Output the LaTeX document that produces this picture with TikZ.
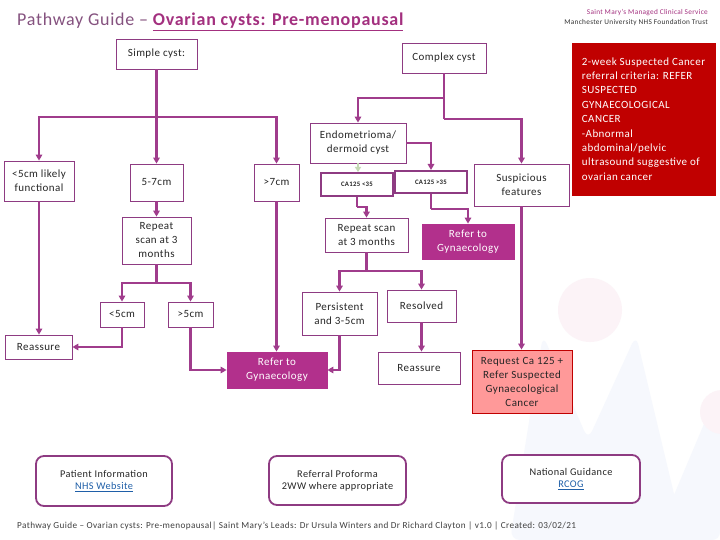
\documentclass[tikz,border=0pt]{standalone}
\usepackage{fontspec}
\setmainfont{Carlito}[LetterSpace=4]
\usetikzlibrary{arrows.meta}
\definecolor{linec}{HTML}{A03C8C}
\definecolor{boxc}{HTML}{8E3B82}
\definecolor{referfill}{HTML}{B2308C}
\definecolor{darkred}{HTML}{C00000}
\definecolor{reqfill}{HTML}{FF9999}
\definecolor{titlep}{HTML}{A3307F}
\definecolor{titleg}{HTML}{85527F}
\definecolor{linkblue}{HTML}{1F5FA8}
\definecolor{wmblue}{HTML}{F6F8FD}
\definecolor{wmpink}{HTML}{FCF3F7}
\definecolor{cagreen}{HTML}{C4D9B4}
\begin{document}
\begin{tikzpicture}[x=1pt,y=-1pt,
  box/.style={draw=boxc, line width=0.8pt, fill=white, inner sep=1pt, align=center,
    font=\fontsize{11}{14}\selectfont, text=black!85},
  cabox/.style={box, line width=2pt, font=\fontsize{6.8}{8}\selectfont\bfseries},
  refer/.style={box, fill=referfill, draw=referfill, text=white},
  infobox/.style={draw=boxc, line width=1.8pt, rounded corners=8pt, fill=white, align=center,
    font=\fontsize{10.3}{12.5}\selectfont, text=black!85},
  conn/.style={draw=linec, line width=2.2pt, -{Triangle[length=6pt,width=6.5pt]}},
  plain/.style={draw=linec, line width=2.2pt}]
\useasboundingbox (0,0) rectangle (720,540);
\fill[white] (0,0) rectangle (720,540);
% faint watermark
\fill[wmblue, rounded corners=10pt] (510,540) -- (543,335) -- (588,440) -- (636,335) -- (685,540) -- cycle;
\fill[wmblue, rounded corners=8pt] (655,540) -- (712,405) -- (720,405) -- (720,540) -- cycle;
\fill[wmpink] (590,310) circle (32);
\fill[wmpink] (722,412) circle (22);
% header
\node[anchor=west, font=\fontsize{18}{20}\selectfont, text=titleg, inner sep=0pt] (title) at (17,22)
  {Pathway Guide -- \textcolor{titlep}{\bfseries\underline{Ovarian cysts: Pre-menopausal}}};
\node[anchor=east, font=\fontsize{7.3}{8}\selectfont, text=titlep, inner sep=0pt] (smc) at (708,13)
  {Saint Mary's Managed Clinical Service};
\node[anchor=east, font=\fontsize{7.3}{8}\selectfont, text=black!80, inner sep=0pt] (mft) at (708,23)
  {Manchester University NHS Foundation Trust};
% nodes
\node[box, minimum width=81, minimum height=30] (simple) at (156.5,54) {Simple cyst:};
\node[box, minimum width=84, minimum height=30] (complex) at (444,58) {Complex cyst};
\node[box, minimum width=70, minimum height=40] (func) at (39,181) {<5cm likely\\functional};
\node[box, minimum width=53, minimum height=37] (s57) at (156.5,182.5) {5-7cm};
\node[box, minimum width=45, minimum height=37] (g7) at (276.5,182.5) {>7cm};
\node[box, minimum width=96, minimum height=40] (endo) at (358,143) {Endometrioma/\\dermoid cyst};
\node[cabox, minimum width=72, minimum height=23] (calow) at (357,184.5) {CA125 <35};
\node[cabox, minimum width=72, minimum height=22] (cahigh) at (431,182) {CA125 >35};
\node[box, minimum width=95, minimum height=42] (susp) at (521.5,185) {Suspicious\\features};
\node[box, fill=darkred, draw=darkred, text=white, minimum width=143, minimum height=152,
  align=left, font=\fontsize{11}{14.4}\selectfont] (red) at (643.5,119)
  {2-week Suspected Cancer\\referral criteria: REFER\\SUSPECTED\\GYNAECOLOGICAL\\CANCER\\-Abnormal\\abdominal/pelvic\\ultrasound suggestive of\\ovarian cancer};
\node[box, minimum width=69, minimum height=47] (rep1) at (156.5,240.5) {Repeat\\scan at 3\\months};
\node[box, minimum width=83, minimum height=34] (rep2) at (366.5,235) {Repeat scan\\at 3 months};
\node[refer, minimum width=92, minimum height=35] (ref1) at (468,241.5) {Refer to\\Gynaecology};
\node[box, minimum width=44, minimum height=25] (lt5) at (122,314.5) {<5cm};
\node[box, minimum width=45, minimum height=25] (gt5) at (190.5,314.5) {>5cm};
\node[box, minimum width=67, minimum height=24] (reas1) at (38.5,347) {Reassure};
\node[refer, minimum width=100, minimum height=36] (ref2) at (277,370) {Refer to\\Gynaecology};
\node[box, minimum width=75, minimum height=43] (pers) at (339.5,313.5) {Persistent\\and 3-5cm};
\node[box, minimum width=69, minimum height=32] (resol) at (421.5,306) {Resolved};
\node[box, minimum width=82, minimum height=32] (reas2) at (419,368) {Reassure};
\node[box, fill=reqfill, draw=darkred, minimum width=100, minimum height=63] (req) at (522,381.5)
  {Request Ca 125 +\\Refer Suspected\\Gynaecological\\Cancer};
\node[infobox, minimum width=136, minimum height=50] (pinfo) at (104,481)
  {Patient Information\\\textcolor{linkblue}{\underline{NHS Website}}};
\node[infobox, minimum width=137, minimum height=49] (refpro) at (337.5,480.5)
  {Referral Proforma\\2WW where appropriate};
\node[infobox, minimum width=138, minimum height=48] (natg) at (571,479)
  {National Guidance\\\textcolor{linkblue}{\underline{RCOG}}};
\node[anchor=west, font=\fontsize{9.2}{10}\selectfont, text=black!75, inner sep=0pt] (footer) at (17,526)
  {Pathway Guide -- Ovarian cysts: Pre-menopausal| Saint Mary's Leads: Dr Ursula Winters and Dr Richard Clayton | v1.0 | Created: 03/02/21};
% junction coordinates
\coordinate (j1) at (156.5,117);
\coordinate (j2) at (156.5,283);
\coordinate (j3) at (444,98);
\coordinate (j4) at (444,119);
\coordinate (j5) at (357,207);
\coordinate (j6) at (431,209);
\coordinate (j7) at (366.5,271);
% connectors: simple cyst
\draw[conn] (simple.south) -- (s57.north);
\draw[conn] (j1) -| (func.north);
\draw[conn] (j1) -| (g7.north);
\draw[conn] (s57.south) -- (rep1.north);
\draw[conn] (func.south) -- (func.south |- reas1.north);
\draw[plain] (rep1.south) -- (j2);
\draw[conn] (j2) -| (lt5.north);
\draw[conn] (j2) -| (gt5.north);
\draw[conn] (lt5.south) |- (reas1.east);
\draw[conn] (gt5.south) |- (ref2.west);
\draw[conn] (g7.south) -- (g7.south |- ref2.north);
% connectors: complex cyst
\draw[plain] (complex.south) -- (j4);
\draw[conn] (j3) -| (endo.north);
\draw[conn] (j4) -| (susp.north);
\draw[draw=cagreen, line width=1.5pt, -{Triangle[length=5pt,width=6pt]}] (endo.south) -- (endo.south |- calow.north);
\draw[conn] (endo.east) -| (cahigh.north);
\draw[plain] (calow.south) -- (j5);
\draw[conn] (j5) -| (rep2.north);
\draw[plain] (cahigh.south) -- (j6);
\draw[conn] (j6) -| (ref1.north);
\draw[plain] (rep2.south) -- (j7);
\draw[conn] (j7) -| (pers.north);
\draw[conn] (j7) -| (resol.north);
\draw[conn] (pers.south) |- (ref2.east);
\draw[conn] (resol.south) -- (resol.south |- reas2.north);
\draw[conn] (susp.south) -- (susp.south |- req.north);
\end{tikzpicture}
\end{document}
